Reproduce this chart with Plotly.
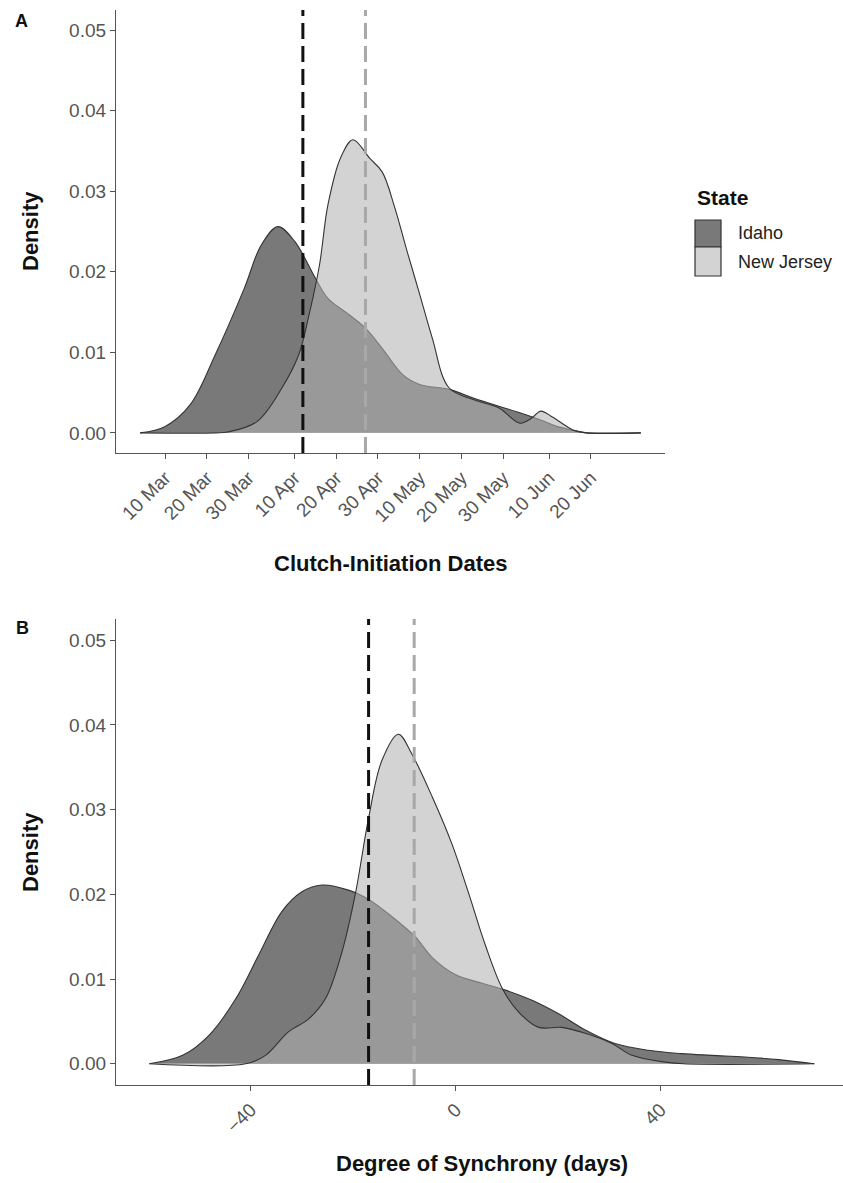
import plotly.graph_objects as go

W, H = 843, 1183

# ---------------- Panel A data: clutch-initiation dates ----------------
idaho_a_dates = ["2019-03-04", "2019-03-10", "2019-03-16", "2019-03-22", "2019-03-29",
                 "2019-04-02", "2019-04-06", "2019-04-10", "2019-04-15", "2019-04-18",
                 "2019-04-23", "2019-04-27", "2019-05-01", "2019-05-06", "2019-05-10",
                 "2019-05-17", "2019-05-23", "2019-05-29", "2019-06-03", "2019-06-08",
                 "2019-06-12", "2019-06-17", "2019-06-19", "2019-07-02"]
idaho_a_dens = [0, 0.0008, 0.0035, 0.0097, 0.018, 0.0233, 0.0256, 0.0238, 0.0192, 0.0167,
                0.0147, 0.013, 0.0105, 0.0072, 0.006, 0.0054, 0.0043, 0.0033, 0.0025, 0.0016,
                0.0008, 0.0002, 0, 0]

nj_a_dates = ["2019-03-04", "2019-03-22", "2019-03-25", "2019-04-01", "2019-04-07",
              "2019-04-11", "2019-04-13 12:00", "2019-04-16", "2019-04-18", "2019-04-21",
              "2019-04-24", "2019-04-28", "2019-05-01", "2019-05-04", "2019-05-07",
              "2019-05-10", "2019-05-13", "2019-05-17", "2019-05-23", "2019-05-29",
              "2019-06-03", "2019-06-06", "2019-06-08", "2019-06-11", "2019-06-16",
              "2019-06-19", "2019-07-02"]
nj_a_dens = [0, 0, 0.0001, 0.0014, 0.0056, 0.0097, 0.0147, 0.0209, 0.0283, 0.0341,
             0.0364, 0.0341, 0.0324, 0.028, 0.0225, 0.0172, 0.0118, 0.0056, 0.0041, 0.0031,
             0.0012, 0.0019, 0.0027, 0.0019, 0.0003, 0, 0]

mean_a = {"Idaho": "2019-04-12", "New Jersey": "2019-04-27"}

tick_a_vals = ["2019-03-10", "2019-03-20", "2019-03-30", "2019-04-10", "2019-04-20",
               "2019-04-30", "2019-05-10", "2019-05-20", "2019-05-30", "2019-06-10",
               "2019-06-20"]
tick_a_text = ["10 Mar", "20 Mar", "30 Mar", "10 Apr", "20 Apr", "30 Apr",
               "10 May", "20 May", "30 May", "10 Jun", "20 Jun"]

# ---------------- Panel B data: degree of synchrony ----------------
idaho_b_x = [-59.8, -53.3, -48.1, -42.9, -38.4, -33.9, -30, -26.1, -20.9, -17, -12.5,
             -7.9, -4.5, 0, 5.2, 9.7, 14.9, 20.1, 25.3, 31.1, 37.6, 44.1, 50, 56.4, 63, 70]
idaho_b_y = [0, 0.001, 0.0034, 0.0077, 0.0129, 0.018, 0.0203, 0.0211, 0.0205, 0.0194,
             0.0174, 0.015, 0.0125, 0.0105, 0.0095, 0.0087, 0.0075, 0.0059, 0.004, 0.0024,
             0.0016, 0.0012, 0.001, 0.0008, 0.0005, 0]

nj_b_x = [-59.8, -41, -37.1, -32.6, -28.7, -25.4, -22.2, -19.6, -17, -14.4, -11.2, -8.5,
          -4.5, -0.7, 2.6, 5.8, 9.1, 12.3, 16.2, 20.7, 25.3, 30.5, 34.4, 40.9, 44.5, 70]
nj_b_y = [0, 0, 0.001, 0.0038, 0.0053, 0.0077, 0.0132, 0.02, 0.029, 0.0358, 0.0389,
          0.0365, 0.0314, 0.0259, 0.02, 0.014, 0.0089, 0.0061, 0.0043, 0.0043, 0.0036,
          0.0024, 0.001, 0.0002, 0, 0]

mean_b = {"Idaho": -17.0, "New Jersey": -8.1}

tick_b_vals = [-40, 0, 40]
tick_b_text = ["\u221240", "0", "40"]

y_ticks = [0, 0.01, 0.02, 0.03, 0.04, 0.05]

# ---------------- style ----------------
FONT = "Liberation Sans, Arial, sans-serif"
FILL = {"Idaho": "rgba(20,20,20,0.57)", "New Jersey": "rgba(178,178,178,0.57)"}
VLINE = {"Idaho": "#111111", "New Jersey": "#a8a8a8"}
OUTLINE = "#333333"
AX = "#555555"
TICKC = "#555555"


def px_x(p):
    return p / W


def px_y(p):
    return 1 - p / H


fig = go.Figure()

for name, xs, ys, xa, ya in [
    ("Idaho", idaho_a_dates, idaho_a_dens, "x", "y"),
    ("New Jersey", nj_a_dates, nj_a_dens, "x", "y"),
    ("Idaho", idaho_b_x, idaho_b_y, "x2", "y2"),
    ("New Jersey", nj_b_x, nj_b_y, "x2", "y2"),
]:
    fig.add_trace(go.Scatter(
        x=xs, y=ys, xaxis=xa, yaxis=ya, name=name, mode="lines",
        line=dict(color=OUTLINE, width=1.1, shape="spline", smoothing=1.0),
        fill="tozeroy", fillcolor=FILL[name], showlegend=False, hoverinfo="skip"))

shapes = []
for name in ["Idaho", "New Jersey"]:
    shapes.append(dict(type="line", xref="x", yref="y domain", x0=mean_a[name], x1=mean_a[name],
                       y0=0, y1=1, line=dict(color=VLINE[name], width=3, dash="16px,7px")))
    shapes.append(dict(type="line", xref="x2", yref="y2 domain", x0=mean_b[name], x1=mean_b[name],
                       y0=0, y1=1, line=dict(color=VLINE[name], width=3, dash="16px,7px")))

# legend (manual, ggplot-like keys)
legend_keys = [("Idaho", 220, 247, "#797979"), ("New Jersey", 247, 276, "#d3d3d3")]
for name, y0, y1, col in legend_keys:
    shapes.append(dict(type="rect", xref="paper", yref="paper",
                       x0=px_x(695), x1=px_x(721), y0=px_y(y1), y1=px_y(y0),
                       fillcolor=col, line=dict(color="#333333", width=1.2)))

annotations = [
    dict(text="<b>A</b>", x=px_x(21), y=px_y(21), font=dict(size=18, color="#111")),
    dict(text="<b>B</b>", x=px_x(22), y=px_y(628), font=dict(size=18, color="#111")),
    dict(text="<b>Density</b>", x=px_x(30), y=px_y(231), textangle=-90, font=dict(size=22, color="#111")),
    dict(text="<b>Density</b>", x=px_x(30), y=px_y(852), textangle=-90, font=dict(size=22, color="#111")),
    dict(text="<b>Clutch-Initiation Dates</b>", x=px_x(390), y=px_y(563), font=dict(size=22, color="#111")),
    dict(text="<b>Degree of Synchrony (days)</b>", x=px_x(482), y=px_y(1163), font=dict(size=22, color="#111")),
    dict(text="<b>State</b>", x=px_x(695), y=px_y(198), xanchor="left", font=dict(size=21, color="#111")),
    dict(text="Idaho", x=px_x(736), y=px_y(233), xanchor="left", font=dict(size=18, color="#222")),
    dict(text="New Jersey", x=px_x(736), y=px_y(262), xanchor="left", font=dict(size=18, color="#222")),
]
for a in annotations:
    a.update(xref="paper", yref="paper", showarrow=False, font_family=FONT)
    a.setdefault("xanchor", "center")
    a["yanchor"] = "middle"

axis_common = dict(showline=True, linecolor=AX, linewidth=1.3, ticks="outside", ticklen=5,
                   tickcolor=AX, tickwidth=1.2, showgrid=False, zeroline=False,
                   tickfont=dict(family=FONT, size=19, color=TICKC), fixedrange=True)

fig.update_layout(
    width=W, height=H, margin=dict(l=0, r=0, t=0, b=0),
    paper_bgcolor="white", plot_bgcolor="white", showlegend=False,
    font=dict(family=FONT),
    xaxis=dict(**axis_common, type="date", domain=[px_x(116), px_x(665)],
               range=["2019-02-26 05:00", "2019-07-07 19:00"], anchor="y",
               tickmode="array", tickvals=tick_a_vals, ticktext=tick_a_text, tickangle=-45),
    yaxis=dict(**axis_common, domain=[px_y(453), px_y(10)], range=[-0.0025, 0.0525],
               anchor="x", tickmode="array", tickvals=y_ticks,
               ticktext=[f"{v:.2f}" for v in y_ticks]),
    xaxis2=dict(**axis_common, domain=[px_x(116), 1.0], range=[-66.3, 75.6], anchor="y2",
                tickmode="array", tickvals=tick_b_vals, ticktext=tick_b_text, tickangle=-45),
    yaxis2=dict(**axis_common, domain=[px_y(1085), px_y(619)], range=[-0.0025, 0.0525],
                anchor="x2", tickmode="array", tickvals=y_ticks,
                ticktext=[f"{v:.2f}" for v in y_ticks]),
    shapes=shapes, annotations=annotations,
)

fig.write_html("out.html")
